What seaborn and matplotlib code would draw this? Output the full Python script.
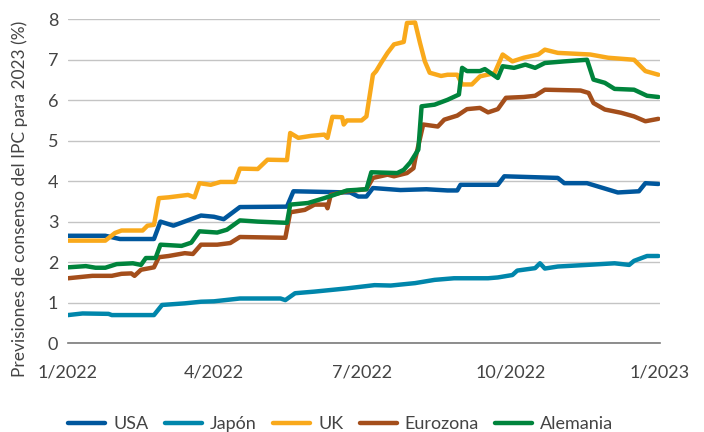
import matplotlib
matplotlib.use("Agg")
import matplotlib.pyplot as plt
import matplotlib.ticker as mticker
import matplotlib.dates as mdates
import seaborn as sns
import pandas as pd

# series (date, consensus CPI forecast for 2023 in %)
usa_fechas = ["2022-01-01", "2022-01-24", "2022-02-02", "2022-02-23", "2022-02-27", "2022-03-07",
              "2022-03-24", "2022-04-01", "2022-04-07", "2022-04-17", "2022-05-16", "2022-05-20",
              "2022-06-24", "2022-06-29", "2022-07-04", "2022-07-08", "2022-07-25", "2022-08-10",
              "2022-08-23", "2022-08-29", "2022-08-31", "2022-09-23", "2022-09-27", "2022-10-30",
              "2022-11-03", "2022-11-17", "2022-12-06", "2022-12-19", "2022-12-23", "2022-12-31"]
usa_valores = [2.65, 2.65, 2.57, 2.57, 3.00, 2.90, 3.15, 3.12, 3.06, 3.36, 3.37, 3.75,
               3.72, 3.62, 3.62, 3.83, 3.78, 3.80, 3.77, 3.77, 3.91, 3.91, 4.12, 4.08,
               3.95, 3.95, 3.72, 3.75, 3.95, 3.93]

japon_fechas = ["2022-01-01", "2022-01-10", "2022-01-26", "2022-01-28", "2022-02-23", "2022-02-28",
                "2022-03-14", "2022-03-24", "2022-04-01", "2022-04-17", "2022-05-12", "2022-05-15",
                "2022-05-21", "2022-06-02", "2022-06-22", "2022-07-09", "2022-07-19", "2022-08-03",
                "2022-08-15", "2022-08-27", "2022-09-17", "2022-09-23", "2022-10-02", "2022-10-05",
                "2022-10-16", "2022-10-19", "2022-10-22", "2022-10-30", "2022-11-17", "2022-12-04",
                "2022-12-13", "2022-12-16", "2022-12-24", "2022-12-31"]
japon_valores = [0.69, 0.73, 0.72, 0.69, 0.69, 0.94, 0.98, 1.02, 1.03, 1.10, 1.10, 1.06,
                 1.23, 1.27, 1.35, 1.43, 1.42, 1.48, 1.56, 1.60, 1.60, 1.62, 1.68, 1.79,
                 1.85, 1.97, 1.84, 1.89, 1.93, 1.97, 1.93, 2.03, 2.15, 2.15]

uk_fechas = ["2022-01-01", "2022-01-24", "2022-01-30", "2022-02-03", "2022-02-16", "2022-02-19",
             "2022-02-23", "2022-02-26", "2022-03-04", "2022-03-16", "2022-03-20", "2022-03-23",
             "2022-03-30", "2022-04-05", "2022-04-14", "2022-04-17", "2022-04-28", "2022-05-04",
             "2022-05-16", "2022-05-18", "2022-05-23", "2022-05-31", "2022-06-08", "2022-06-10",
             "2022-06-13", "2022-06-19", "2022-06-20", "2022-06-22", "2022-07-01", "2022-07-04",
             "2022-07-08", "2022-07-10", "2022-07-13", "2022-07-17", "2022-07-21", "2022-07-27",
             "2022-07-29", "2022-08-03", "2022-08-06", "2022-08-09", "2022-08-12", "2022-08-19",
             "2022-08-23", "2022-08-29", "2022-09-01", "2022-09-07", "2022-09-12", "2022-09-21",
             "2022-09-26", "2022-10-02", "2022-10-09", "2022-10-18", "2022-10-22", "2022-10-30",
             "2022-11-19", "2022-11-30", "2022-12-16", "2022-12-23", "2022-12-31"]
uk_valores = [2.53, 2.53, 2.72, 2.78, 2.78, 2.90, 2.92, 3.58, 3.60, 3.66, 3.60, 3.95,
              3.91, 3.98, 3.98, 4.31, 4.30, 4.53, 4.52, 5.19, 5.07, 5.12, 5.15, 5.07,
              5.59, 5.58, 5.40, 5.50, 5.50, 5.60, 6.63, 6.72, 6.92, 7.17, 7.38, 7.44,
              7.91, 7.92, 7.42, 6.96, 6.68, 6.60, 6.63, 6.63, 6.39, 6.39, 6.59, 6.67,
              7.13, 6.96, 7.05, 7.13, 7.25, 7.17, 7.13, 7.05, 7.00, 6.72, 6.63]

euro_fechas = ["2022-01-01", "2022-01-16", "2022-01-28", "2022-02-03", "2022-02-09", "2022-02-11",
               "2022-02-15", "2022-02-23", "2022-02-26", "2022-03-04", "2022-03-14", "2022-03-19",
               "2022-03-24", "2022-04-03", "2022-04-11", "2022-04-17", "2022-05-15", "2022-05-18",
               "2022-05-27", "2022-06-02", "2022-06-09", "2022-06-10", "2022-06-12", "2022-06-22",
               "2022-07-04", "2022-07-08", "2022-07-17", "2022-07-21", "2022-07-29", "2022-08-02",
               "2022-08-03", "2022-08-08", "2022-08-17", "2022-08-21", "2022-08-29", "2022-09-04",
               "2022-09-12", "2022-09-17", "2022-09-23", "2022-09-28", "2022-10-09", "2022-10-16",
               "2022-10-22", "2022-11-13", "2022-11-18", "2022-11-21", "2022-11-28", "2022-12-08",
               "2022-12-16", "2022-12-23", "2022-12-31"]
euro_valores = [1.60, 1.66, 1.66, 1.71, 1.72, 1.66, 1.81, 1.87, 2.12, 2.15, 2.22, 2.20,
                2.43, 2.43, 2.47, 2.62, 2.60, 3.23, 3.29, 3.42, 3.42, 3.33, 3.66, 3.75,
                3.80, 4.08, 4.16, 4.12, 4.20, 4.32, 4.53, 5.40, 5.35, 5.52, 5.62, 5.78,
                5.81, 5.70, 5.78, 6.06, 6.08, 6.11, 6.26, 6.24, 6.18, 5.93, 5.77, 5.69,
                5.60, 5.48, 5.54]

alemania_fechas = ["2022-01-01", "2022-01-12", "2022-01-18", "2022-01-24", "2022-01-31", "2022-02-10",
                   "2022-02-15", "2022-02-18", "2022-02-24", "2022-02-27", "2022-03-12", "2022-03-18",
                   "2022-03-23", "2022-04-03", "2022-04-09", "2022-04-17", "2022-04-28", "2022-05-16",
                   "2022-05-18", "2022-05-29", "2022-06-08", "2022-06-14", "2022-06-22", "2022-07-04",
                   "2022-07-07", "2022-07-23", "2022-07-27", "2022-07-31", "2022-08-05", "2022-08-07",
                   "2022-08-15", "2022-08-23", "2022-08-30", "2022-09-01", "2022-09-04", "2022-09-12",
                   "2022-09-15", "2022-09-23", "2022-09-26", "2022-10-03", "2022-10-10", "2022-10-16",
                   "2022-10-22", "2022-11-03", "2022-11-17", "2022-11-21", "2022-11-28", "2022-12-04",
                   "2022-12-16", "2022-12-24", "2022-12-31"]
alemania_valores = [1.87, 1.90, 1.86, 1.86, 1.95, 1.97, 1.93, 2.10, 2.10, 2.43, 2.40, 2.48,
                    2.76, 2.73, 2.80, 3.03, 3.00, 2.97, 3.42, 3.46, 3.58, 3.66, 3.77, 3.80,
                    4.22, 4.20, 4.28, 4.46, 4.78, 5.85, 5.89, 6.01, 6.14, 6.80, 6.72, 6.72,
                    6.77, 6.55, 6.84, 6.80, 6.88, 6.80, 6.92, 6.96, 7.00, 6.51, 6.43, 6.28,
                    6.26, 6.11, 6.08]

series = ["USA", "Japón", "UK", "Eurozona", "Alemania"]
colores = ["#00579D", "#0086AB", "#F9A91B", "#A44E1B", "#00843C"]
ticks_x = ["2022-01-01", "2022-04-01", "2022-07-01", "2022-10-01", "2023-01-01"]

datos = [(usa_fechas, usa_valores), (japon_fechas, japon_valores), (uk_fechas, uk_valores),
         (euro_fechas, euro_valores), (alemania_fechas, alemania_valores)]
df = pd.concat([pd.DataFrame({"fecha": pd.to_datetime(f), "valor": v, "serie": s})
                for s, (f, v) in zip(series, datos)], ignore_index=True)

sns.set_style("white")
plt.rcParams["font.family"] = ["Lato", "DejaVu Sans"]
texto = "#444444"

fig = plt.figure(figsize=(7.04, 4.32), dpi=100)
ax = fig.add_axes([68 / 704, 1 - 343 / 432, 592 / 704, (343 - 19.3) / 432])

sns.lineplot(data=df, x="fecha", y="valor", hue="serie", hue_order=series,
             palette=colores, estimator=None, linewidth=3.2, ax=ax, legend=True)

ax.set_xlim(pd.Timestamp("2022-01-01"), pd.Timestamp("2023-01-01"))
ax.set_ylim(0, 8)
ax.set_xticks(pd.to_datetime(ticks_x))
ax.xaxis.set_major_formatter(mticker.FuncFormatter(
    lambda v, p: f"{mdates.num2date(v).month}/{mdates.num2date(v).year}"))
ax.set_yticks(range(0, 9))
ax.grid(axis="y", color="#C4C4C4", linewidth=1.0)
ax.set_axisbelow(True)
for s in ["left", "right", "top"]:
    ax.spines[s].set_visible(False)
ax.spines["bottom"].set_color("#7A7A7A")
ax.spines["bottom"].set_linewidth(1.2)
ax.tick_params(axis="x", direction="out", length=9.5, width=1.0, color="#7A7A7A",
               pad=6, labelsize=13, labelcolor=texto)
ax.tick_params(axis="y", length=0, pad=7, labelsize=13, labelcolor=texto)
ax.set_xlabel("")
ax.set_ylabel("")
fig.text(20 / 704, 1 - 199 / 432, "Previsiones de consenso del IPC para 2023 (%)",
         rotation=90, ha="center", va="center", fontsize=12.5, color=texto)

handles, labels = ax.get_legend_handles_labels()
ax.get_legend().remove()
leg = fig.legend(handles, labels, loc="center", bbox_to_anchor=(341 / 704, 1 - 424 / 432),
                 ncol=5, frameon=False, fontsize=13, handlelength=2.05, handletextpad=0.45,
                 columnspacing=0.9, labelcolor=texto)
for line in leg.get_lines():
    line.set_linewidth(3.2)

fig.savefig("out.png", dpi=100)
